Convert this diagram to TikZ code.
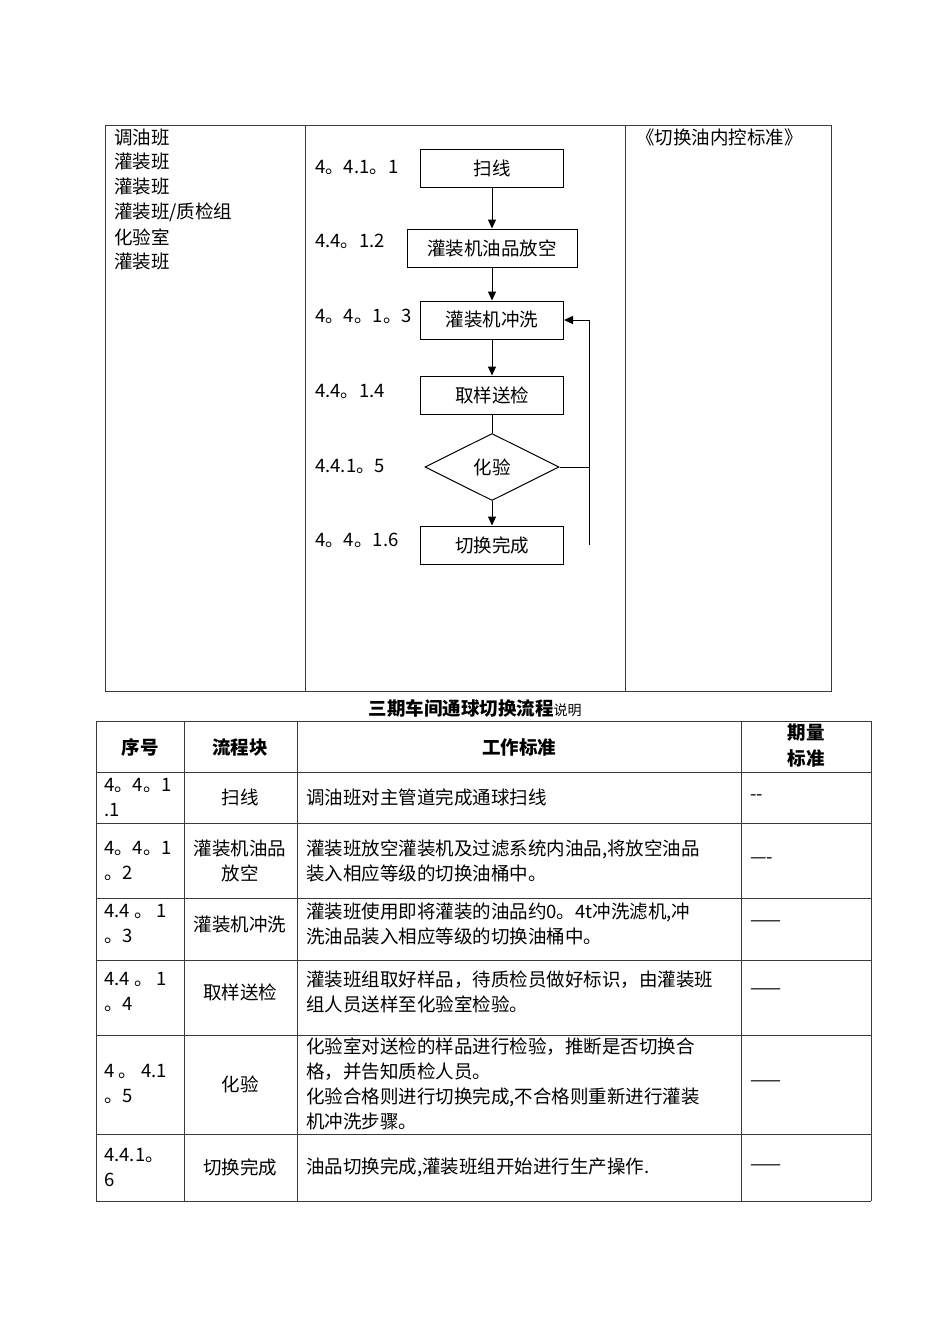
\documentclass[tikz,border=0pt]{standalone}
\usepackage{fontspec}
\setmainfont{Noto Sans CJK SC}
\usetikzlibrary{arrows.meta,positioning,shapes.geometric}
\definecolor{rulegray}{HTML}{3A3A3A}
\newcommand{\fsz}{\fontsize{18.5}{25}\selectfont}
\tikzset{
  stepbox/.style={draw, line width=1pt, minimum width=143pt, minimum height=38pt,
    inner sep=0pt, font=\fsz},
  checkbox/.style={draw, diamond, aspect=2, line width=1pt, minimum width=134pt,
    minimum height=67pt, inner sep=0pt, font=\fsz},
  flow/.style={-{Triangle[length=9pt,width=8pt]}, line width=1pt},
  plain/.style={line width=1pt},
  tabline/.style={line width=1pt, draw=rulegray},
  lbl/.style={anchor=west, inner sep=0pt, font=\fsz, align=left},
  cell/.style={inner sep=0pt, font=\fsz, align=center},
  head/.style={inner sep=0pt, font=\fsz\bfseries, align=center},
}

\begin{document}
\begin{tikzpicture}[x=1pt, y=-1pt]
\useasboundingbox (0,0) rectangle (950,1344);

% Upper table: departments, flow chart, reference document.
\draw[tabline] (105,125) rectangle (831,691);
\draw[tabline] (305,125) -- (305,691);
\draw[tabline] (625,125) -- (625,691);
\foreach \dept [count=\i] in {调油班, 灌装班, 灌装班, 灌装班/质检组, 化验室, 灌装班} {
  \node[lbl] (dept\i) at (114, 112+25*\i) {\dept};
}
\node[lbl] (refdoc) at (636,137) {《切换油内控标准》};

% Flow chart
\node[stepbox] (scan) at (492,168) {扫线};
\node[stepbox, minimum width=170pt] (drain) at (492,248) {灌装机油品放空};
\node[stepbox] (wash) at (492,320) {灌装机冲洗};
\node[stepbox] (sample) at (492,395) {取样送检};
\node[checkbox] (test) at (492,467) {化验};
\node[stepbox] (done) at (492,545) {切换完成};

\node[lbl] (no1) at (315,167) {4。4.1。1};
\node[lbl] (no2) at (315,241) {4.4。1.2};
\node[lbl] (no3) at (315,316) {4。4。1。3};
\node[lbl] (no4) at (315,391) {4.4。1.4};
\node[lbl] (no5) at (315,466) {4.4.1。5};
\node[lbl] (no6) at (315,540) {4。4。1.6};

\draw[flow] (scan) -- (drain);
\draw[flow] (drain) -- (wash);
\draw[flow] (wash) -- (sample);
\draw[plain] (sample) -- (test);
\draw[flow] (test) -- (done);
\coordinate (fbbot) at (589,545);
\coordinate (fbtop) at (589,320);
\draw[plain] (test.east) -- (test.east -| fbbot);
\draw[flow] (fbbot) -- (fbtop) -- (wash.east);

% Lower table: explanation of each step.
\node[inner sep=0pt] (title) at (475,708)
  {\fsz\bfseries 三期车间通球切换流程{\fontsize{14}{16}\selectfont\mdseries 说明}};
\foreach \y in {721,772,823,898,960,1035,1134,1201} {
  \draw[tabline] (96,\y) -- (871,\y);
}
\foreach \x in {96,184,297,741,871} {
  \draw[tabline] (\x,721) -- (\x,1201);
}
\node[head] (hno) at (140,747) {序号};
\node[head] (hblk) at (240,747) {流程块};
\node[head] (hwork) at (519,747) {工作标准};
\node[head, font=\fontsize{18.5}{26}\selectfont\bfseries] (hqty) at (806,746) {期量\\标准};

\foreach \num/\blk/\work/\qty/\yy [count=\r] in {
  {4。4。1\\.1}/{扫线}/{调油班对主管道完成通球扫线}/{-{}-}/797.5,
  {4。4。1\\。2}/{灌装机油品\\放空}/{灌装班放空灌装机及过滤系统内油品,将放空油品\\装入相应等级的切换油桶中。}/{—-}/860.5,
  {4.4 。 1\\。3}/{灌装机冲洗}/{灌装班使用即将灌装的油品约0。4t冲洗滤机,冲\\洗油品装入相应等级的切换油桶中。}/{——}/924,
  {4.4 。 1\\。4}/{取样送检}/{灌装班组取好样品，待质检员做好标识，由灌装班\\组人员送样至化验室检验。}/{——}/992,
  {4 。 4.1\\。5}/{化验}/{化验室对送检的样品进行检验，推断是否切换合\\格，并告知质检人员。\\化验合格则进行切换完成,不合格则重新进行灌装\\机冲洗步骤。}/{——}/1084,
  {4.4.1。\\6}/{切换完成}/{油品切换完成,灌装班组开始进行生产操作.}/{——}/1167.5} {
  \node[lbl] (num\r) at (104,\yy) {\num};
  \node[cell] (blk\r) at (240,\yy) {\blk};
  \node[lbl] (work\r) at (306,\yy) {\work};
  \node[lbl] (qty\r) at (750,\yy) {\qty};
}

\end{tikzpicture}
\end{document}
